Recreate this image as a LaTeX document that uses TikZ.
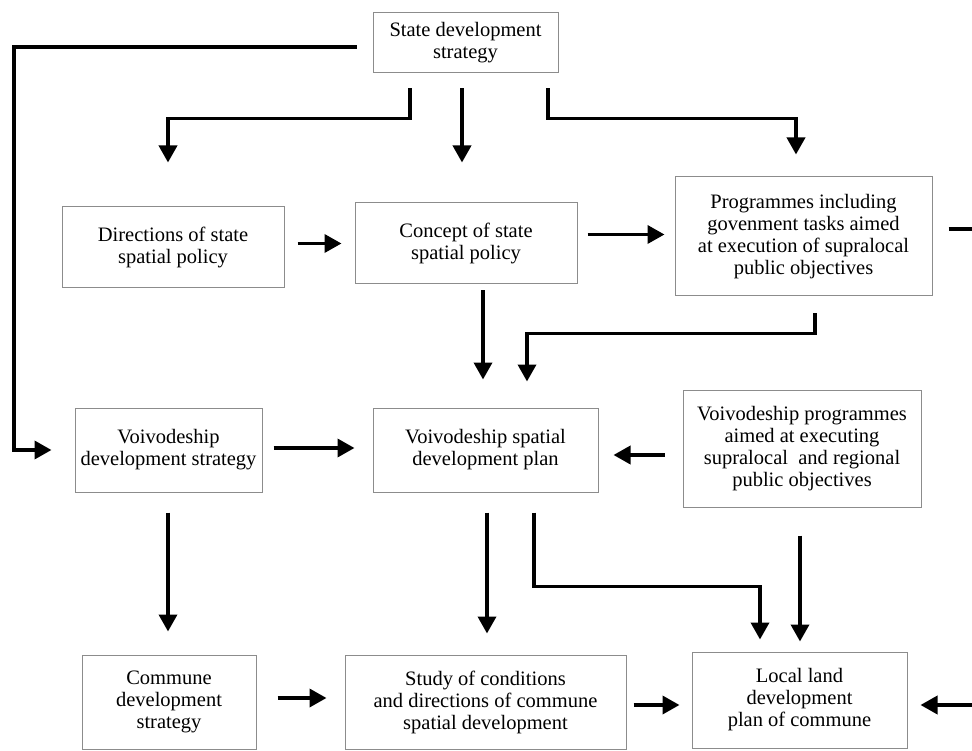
\documentclass[tikz,border=0pt]{standalone}
\usepackage{fontspec}
\setmainfont{Liberation Serif}
\usepackage{tikz}
\usetikzlibrary{arrows.meta,calc}
\tikzset{>={Triangle[length=17pt,width=18pt]}}
\usepackage{xcolor}
\colorlet{myframe}{black!45}
\colorlet{myline}{black}
\tikzstyle{box}=[draw=myframe,line width=1pt,align=center,inner sep=2,font=\fontsize{20.5}{22}\selectfont]
\tikzstyle{connect}=[line width=3.6pt,myline]
\tikzstyle{arr}=[connect,->]

\begin{document}
\begin{tikzpicture}[x=1pt,y=-1pt]
  \useasboundingbox (0,0) rectangle (972,751);
  \def\ws{185} % width of top box

  % BOXES
  \node[box,minimum width=\ws,minimum height=60] (SDS) at (465.5,43) {State development\\strategy};
  \node[box,minimum width=222,minimum height=81] (DIR) at (173,247.5) {Directions of state\\spatial policy};
  \node[box,minimum width=222,minimum height=81] (CON) at (466,243.5) {Concept of state\\spatial policy};
  \node[box,minimum width=257,minimum height=119] (PRG) at (803.5,236.5) {Programmes including\\govenment tasks aimed\\at execution of supralocal\\public objectives};
  \node[box,minimum width=187,minimum height=84] (VDS) at (168.5,450) {Voivodeship\\development strategy};
  \node[box,minimum width=225,minimum height=84] (VSP) at (485.5,450) {Voivodeship spatial\\development plan};
  \node[box,minimum width=238,minimum height=117] (VPR) at (802,448.5) {Voivodeship programmes\\aimed at executing\\supralocal~ and regional\\public objectives};
  \node[box,minimum width=174,minimum height=94] (CDS) at (169,702) {Commune\\development\\strategy};
  \node[box,minimum width=281,minimum height=94] (STU) at (485.5,702) {Study of conditions\\and directions of commune\\spatial development};
  \node[box,minimum width=215,minimum height=96] (LOC) at (799.5,700) {Local land\\development\\plan of commune};

  % free ends
  \coordinate (edge) at (14,0);
  \coordinate (out) at (990,229);
  \coordinate (in) at (990,705);

  % FROM STATE STRATEGY
  \draw[arr,shorten <=16pt,shorten >=23pt] ([yshift=-4pt]SDS.west) -| (VDS.west -| edge) -- (VDS.west);
  \draw[arr,shorten <=15pt,shorten >=44pt] ([xshift=-55.5pt]SDS.south) -- ++(0,45) -| ([xshift=-5pt]DIR.north);
  \draw[arr,shorten <=15pt,shorten >=40pt] ([xshift=-3.5pt]SDS.south) -- ([xshift=-3.5pt]SDS.south |- CON.north);
  \draw[arr,shorten <=15pt,shorten >=22pt] ([xshift=82.5pt]SDS.south) -- ++(0,45) -| ([xshift=-7.5pt]PRG.north);

  % STATE LEVEL
  \draw[arr,shorten <=13pt,shorten >=13pt] (DIR.east |- CON.west) -- (CON.west);
  \draw[arr,shorten <=10pt,shorten >=10pt] ([yshift=9pt]CON.east) -- ([yshift=9pt]CON.east -| PRG.west);
  \draw[connect,shorten <=16pt] ([yshift=7.5pt]PRG.east) -- (out);
  \draw[arr,shorten <=6pt,shorten >=28pt] ([xshift=17pt]CON.south) -- ([xshift=17pt]CON.south |- VSP.north);
  \draw[arr,shorten <=17pt,shorten >=26pt] ([xshift=11.5pt]PRG.south) -- ++(0,37) -| ([xshift=41.5pt]VSP.north);

  % VOIVODESHIP LEVEL
  \draw[arr,shorten <=11pt,shorten >=18pt] ([yshift=2pt]VDS.east) -- ([yshift=2pt]VDS.east -| VSP.west);
  \draw[arr,shorten <=18pt,shorten >=15pt] ([yshift=-6.5pt]VPR.west) -- ([yshift=-6.5pt]VPR.west -| VSP.east);
  \draw[arr,shorten <=20pt,shorten >=23pt] ([xshift=-0.5pt]VDS.south) -- ([xshift=-0.5pt]VDS.south |- CDS.north);
  \draw[arr,shorten <=20pt,shorten >=21pt] ([xshift=1.5pt]VSP.south) -- ([xshift=1.5pt]VSP.south |- STU.north);
  \draw[arr,shorten <=20pt,shorten >=12pt] ([xshift=48.5pt]VSP.south) -- ++(0,94) -| ([xshift=-39.5pt]LOC.north);
  \draw[arr,shorten <=28pt,shorten >=10pt] ([xshift=-2pt]VPR.south) -- ([xshift=-2pt]VPR.south |- LOC.north);

  % COMMUNE LEVEL
  \draw[arr,shorten <=21pt,shorten >=18pt] ([yshift=4pt]CDS.east) -- ([yshift=4pt]CDS.east -| STU.west);
  \draw[arr,shorten <=7pt,shorten >=12pt] ([yshift=-3pt]STU.east) -- ([yshift=-3pt]STU.east -| LOC.west);
  \draw[arr,shorten >=13pt] (in) -- (in -| LOC.east);
\end{tikzpicture}
\end{document}
